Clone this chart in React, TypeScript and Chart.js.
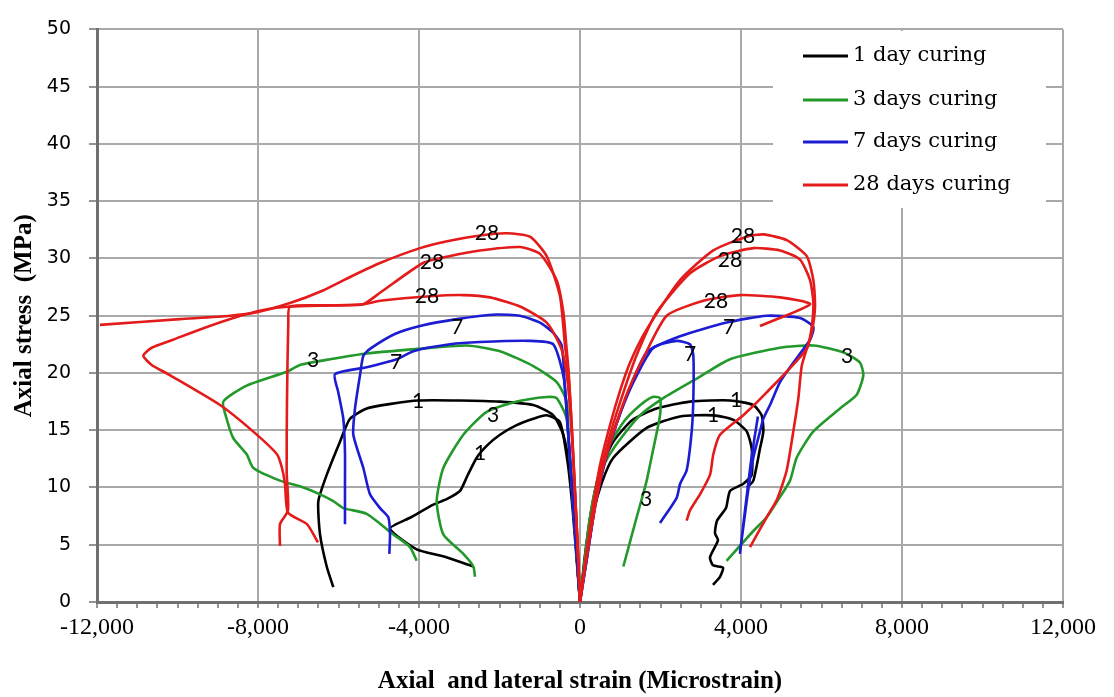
import React, { useEffect, useRef } from 'react';
import { Chart, registerables } from 'chart.js';

Chart.register(...registerables);

type P = [number, number];

// ---------- axis / tick settings ----------
const X_MIN = -12000;
const X_MAX = 12000;
const X_MAJOR = 4000;
const X_MINOR = 500;
const Y_MIN = 0;
const Y_MAX = 50;
const Y_STEP = 5;
const X_TITLE = 'Axial  and lateral strain (Microstrain)';
const Y_TITLE = 'Axial stress  (MPa)';

// ---------- legend ----------
const legendLabels = ['1 day curing', '3 days curing', '7 days curing', '28 days curing'];
const legendColors = ['#000000', '#22992a', '#1c1cd2', '#e41b1b'];

// ---------- 1 day curing ----------
const black1Lateral: P[] = [[0,0],[-80,4],[-160,8],[-248,11.7],[-414,14.6],[-663,16.3],[-1160,17.2],[-1988,17.5],[-3000,17.6],[-4017,17.6],[-4700,17.3],[-5300,16.9],[-5715,16.0],[-5963,14.0],[-6293,11.1],[-6501,8.8],[-6459,5.9],[-6293,3.1],[-6129,1.3]];
const black2Lateral: P[] = [[0,0],[-90,4],[-180,8],[-300,12],[-497,15.7],[-828,16.3],[-1160,16.0],[-1600,15.4],[-1988,14.6],[-2300,13.7],[-2567,12.6],[-2800,11.0],[-2981,9.7],[-3300,9.0],[-3644,8.5],[-4200,7.4],[-4720,6.4],[-4058,4.6],[-3400,4.0],[-2816,3.3],[-2650,3.1]];
const black1Axial: P[] = [[0,0],[120,4],[280,8],[500,11.5],[828,14.0],[1300,15.9],[1905,16.9],[2733,17.5],[3727,17.6],[4306,17.2],[4513,16.3],[4555,14.9],[4472,13.4],[4306,10.6],[4150,10.0]];
const black2Axial: P[] = [[0,0],[120,3.5],[300,7.5],[550,10.5],[828,12.6],[1657,15.2],[2485,16.2],[3313,16.3],[3810,15.9],[4141,14.9],[4265,13.4],[4265,11.1],[4050,10.3],[3727,9.7],[3627,8.2],[3404,7.1],[3354,6.0],[3428,5.4],[3230,3.9],[3304,3.2],[3553,3.0],[3478,2.2],[3304,1.5]];

// ---------- 3 days curing ----------
const green1Lateral: P[] = [[0,0],[-100,5],[-200,10],[-280,14],[-331,17.5],[-580,19.2],[-1160,20.6],[-1988,21.9],[-2816,22.4],[-4017,22.1],[-5300,21.7],[-6211,21.2],[-6957,20.7],[-7288,20.1],[-8281,18.9],[-8862,17.5],[-8779,16.0],[-8613,14.3],[-8281,12.9],[-8115,11.7],[-7454,10.6],[-6957,10.1],[-6459,9.4],[-6129,8.8],[-5880,8.2],[-5300,7.7],[-4638,5.9],[-4224,4.8],[-4058,3.6]];
const green2Lateral: P[] = [[0,0],[-100,5],[-200,10],[-331,16.0],[-580,17.8],[-828,17.9],[-1573,17.5],[-2318,16.6],[-2899,14.6],[-3396,11.7],[-3560,8.8],[-3396,5.9],[-2899,4.2],[-2650,3.1],[-2609,2.2]];
const green1Axial: P[] = [[0,0],[100,3],[220,6.5],[400,10],[600,12],[870,13.6],[1491,16.3],[2070,17.8],[2899,19.5],[3727,21.2],[4969,22.2],[5798,22.4],[6542,21.8],[6957,20.9],[7039,19.8],[6874,18.1],[6460,16.9],[5798,14.9],[5383,12.6],[5218,10.6],[4900,8.8],[4638,7.4],[4306,6.2],[3644,3.6]];
const green2Axial: P[] = [[0,0],[100,3],[230,7],[420,10.5],[700,13.5],[1100,15.8],[1500,17.2],[1800,17.9],[1988,17.8],[1988,16.3],[1823,13.4],[1657,10.6],[1574,9.5],[1408,7.4],[1077,3.1]];

// ---------- 7 days curing ----------
const blue1Lateral: P[] = [[0,0],[-100,5],[-200,10],[-300,15],[-380,19],[-455,22.4],[-663,23.5],[-994,24.4],[-1491,25.0],[-2070,25.1],[-3063,24.7],[-3975,24.1],[-4600,23.4],[-5217,22.1],[-5383,21.5],[-5466,19.8],[-5590,16.9],[-5632,14.6],[-5383,11.7],[-5217,9.4],[-4969,8.2],[-4762,7.4],[-4720,5.9],[-4737,4.2]];
const blue2Lateral: P[] = [[0,0],[-100,5],[-200,10],[-300,15],[-400,19.5],[-663,22.5],[-1242,22.8],[-2485,22.7],[-3230,22.5],[-4141,21.9],[-4554,21.2],[-5300,20.5],[-6087,19.9],[-6004,18.3],[-5880,16.0],[-5839,13.1],[-5839,10.3],[-5839,6.8]];
const blue1Axial: P[] = [[0,0],[180,4],[380,8.5],[600,12],[900,15.5],[1242,18.7],[1657,21.8],[2485,23.2],[3644,24.4],[4638,25.0],[5466,24.8],[5798,24.0],[5715,22.9],[5300,20.9],[4969,19.2],[4720,17.2],[4555,16.0],[4472,14.9],[4306,12.6],[4141,8.8],[3975,4.3],[4120,8.6],[4260,12.6],[4420,16.2]];
const blue2Axial: P[] = [[0,0],[180,4],[380,8.5],[600,12],[900,15.5],[1300,19],[1822,22.2],[2402,22.8],[2733,22.5],[2816,21.5],[2816,17.8],[2775,14.9],[2650,11.5],[2485,10.3],[2402,9.1],[1988,6.9]];

// ---------- 28 days curing ----------
const red1Lateral: P[] = [[0,0],[-60,5],[-130,10],[-200,15],[-290,20],[-373,22.4],[-497,26.7],[-828,30.2],[-1242,31.9],[-1821,32.2],[-2484,32.0],[-3300,31.5],[-3975,30.9],[-4969,29.6],[-5700,28.4],[-6385,27.2],[-7205,26.1],[-8032,25.3],[-8696,25.0],[-9938,24.7],[-11926,24.2]];
const red2Lateral: P[] = [[0,0],[-60,5],[-130,10],[-200,15],[-280,20],[-340,22.4],[-414,25.3],[-580,28.1],[-994,30.4],[-1491,31.0],[-2485,30.7],[-3250,30.2],[-3901,29.6],[-4969,27.0],[-5391,26.0],[-6211,25.9],[-7205,25.8],[-7868,25.5],[-8613,24.8],[-9441,23.8],[-10112,22.9],[-10641,22.2],[-10849,21.5],[-10641,20.7],[-10236,19.9],[-8944,17.2],[-8124,14.9],[-7528,12.9],[-7404,11.7],[-7329,10.3],[-7255,7.8],[-6783,6.8],[-6510,5.2]];
const red3Lateral: P[] = [[0,0],[-60,5],[-130,10],[-210,15],[-300,19],[-380,21],[-497,22.4],[-828,24.4],[-1490,25.8],[-2236,26.6],[-2898,26.8],[-3726,26.7],[-4968,26.3],[-5391,26.0],[-6211,25.9],[-7205,25.8],[-7247,24.4],[-7280,17.5],[-7288,11.4],[-7255,8.0],[-7454,6.8],[-7454,4.9]];
const red1Axial: P[] = [[0,0],[150,4],[330,8.5],[500,12],[750,15.5],[1000,18.5],[1242,20.9],[1657,23.8],[2485,28.1],[3312,30.7],[4141,31.9],[4555,32.1],[5136,31.6],[5633,30.2],[5798,28.1],[5839,25.8],[5757,23.5],[5632,22.1],[5508,20.6],[5425,17.8],[5300,14.9],[5136,11.5],[4900,9.0],[4638,7.4],[4224,4.8]];
const red2Axial: P[] = [[0,0],[150,3.8],[330,8],[520,11.5],[780,15],[1050,18],[1400,21.5],[1905,25.3],[2733,28.7],[3478,30.2],[4306,30.9],[4969,30.7],[5466,29.9],[5715,28.1],[5798,26.1],[5757,24.0],[5632,22.1],[4638,18.3],[4057,16.3],[3478,14.6],[3312,12.9],[3230,11.1],[2981,9.4],[2733,8.0],[2650,7.1]];
const red3Axial: P[] = [[0,0],[170,4],[360,8],[560,11.5],[850,15],[1200,18.5],[1600,21.5],[2154,25.0],[3064,26.3],[3975,26.8],[4969,26.6],[5715,26.0],[4472,24.1]];

// ---------- curve labels (text, strain, stress) ----------
const labelTexts = ['28','28','28','7','7','3','1','3','1','28','28','28','7','7','3','1','1','3'];
const labelStrain = [-2310,-3677,-3800,-3056,-4571,-6634,-4025,-2161,-2485,4050,3727,3379,3702,2733,6634,3876,3304,1640];
const labelStress = [32.2,29.7,26.7,24.0,20.9,21.1,17.5,16.3,13.0,31.9,29.8,26.3,24.0,21.6,21.5,17.6,16.3,9.0];

const GRID = '#a9a9a9';
const AXIS = '#707070';

const series: { data: P[]; color: string }[] = [
  { data: red1Lateral, color: legendColors[3] },
  { data: red2Lateral, color: legendColors[3] },
  { data: red3Lateral, color: legendColors[3] },
  { data: red1Axial, color: legendColors[3] },
  { data: red2Axial, color: legendColors[3] },
  { data: red3Axial, color: legendColors[3] },
  { data: blue1Lateral, color: legendColors[2] },
  { data: blue2Lateral, color: legendColors[2] },
  { data: blue1Axial, color: legendColors[2] },
  { data: blue2Axial, color: legendColors[2] },
  { data: green1Lateral, color: legendColors[1] },
  { data: green2Lateral, color: legendColors[1] },
  { data: green1Axial, color: legendColors[1] },
  { data: green2Axial, color: legendColors[1] },
  { data: black1Lateral, color: legendColors[0] },
  { data: black2Lateral, color: legendColors[0] },
  { data: black1Axial, color: legendColors[0] },
  { data: black2Axial, color: legendColors[0] },
];

const curveLabelPlugin = {
  id: 'curveLabels',
  afterDatasetsDraw(chart: any) {
    const { ctx, scales } = chart;
    ctx.save();
    ctx.font = '21px Lato';
    ctx.fillStyle = '#000';
    ctx.textAlign = 'center';
    ctx.textBaseline = 'middle';
    labelTexts.forEach((t, i) => {
      ctx.fillText(t, scales.x.getPixelForValue(labelStrain[i]), scales.y.getPixelForValue(labelStress[i]));
    });
    ctx.restore();
  },
};

const legendBoxPlugin = {
  id: 'legendBox',
  afterDatasetsDraw(chart: any) {
    const { ctx } = chart;
    ctx.save();
    ctx.fillStyle = '#ffffff';
    ctx.fillRect(773, 31, 273, 177);
    const rows = [56, 100, 142, 185];
    ctx.font = '21px "DejaVu Serif"';
    ctx.textBaseline = 'middle';
    ctx.textAlign = 'left';
    legendLabels.forEach((lab, i) => {
      ctx.strokeStyle = legendColors[i];
      ctx.lineWidth = 3;
      ctx.beginPath();
      ctx.moveTo(803, rows[i]);
      ctx.lineTo(848, rows[i]);
      ctx.stroke();
      ctx.fillStyle = '#000';
      ctx.fillText(lab, 853, rows[i]);
    });
    ctx.restore();
  },
};

export default function App() {
  const ref = useRef<HTMLCanvasElement>(null);
  useEffect(() => {
    document.body.style.margin = '0';
    const chart = new Chart(ref.current as HTMLCanvasElement, {
      type: 'scatter',
      data: {
        datasets: series.map((s) => ({
          data: s.data.map(([x, y]) => ({ x, y })),
          showLine: true,
          borderColor: s.color,
          backgroundColor: s.color,
          borderWidth: 2.6,
          pointRadius: 0,
          tension: 0.2,
          fill: false,
        })),
      },
      options: {
        animation: false,
        responsive: false,
        events: [],
        layout: { padding: { left: 0, right: 51, top: 24, bottom: 0 } },
        plugins: { legend: { display: false }, tooltip: { enabled: false } },
        scales: {
          x: {
            type: 'linear',
            min: X_MIN,
            max: X_MAX,
            afterFit: (s: any) => { s.height = 95; },
            ticks: {
              stepSize: X_MINOR,
              autoSkip: false,
              maxRotation: 0,
              padding: 5,
              color: '#000',
              font: { family: 'Liberation Serif', size: 24 },
              callback: (v: any) => (Number(v) % X_MAJOR === 0 ? Number(v).toLocaleString('en-US') : ''),
            },
            grid: {
              color: (c: any) => (c.tick && c.tick.value % X_MAJOR === 0 ? GRID : 'rgba(0,0,0,0)'),
              lineWidth: 2,
              drawTicks: true,
              tickLength: 6,
              tickColor: AXIS,
              tickWidth: 1.5,
            },
            border: { color: AXIS, width: 3 },
            title: {
              display: true,
              text: X_TITLE,
              color: '#000',
              font: { family: 'Liberation Serif', size: 25, weight: 'bold' },
              padding: { top: 0, bottom: 0 },
            },
          },
          y: {
            type: 'linear',
            min: Y_MIN,
            max: Y_MAX,
            afterFit: (s: any) => { s.width = 97; },
            ticks: {
              stepSize: Y_STEP,
              padding: 18,
              color: '#000',
              font: { family: 'DejaVu Sans', size: 19 },
            },
            grid: {
              color: GRID,
              lineWidth: 2,
              drawTicks: true,
              tickLength: 8,
              tickColor: AXIS,
              tickWidth: 1.5,
            },
            border: { color: AXIS, width: 3 },
            title: {
              display: true,
              text: Y_TITLE,
              color: '#000',
              font: { family: 'Liberation Serif', size: 25, weight: 'bold' },
              padding: { top: 10, bottom: 0 },
            },
          },
        },
      } as any,
      plugins: [legendBoxPlugin, curveLabelPlugin],
    });
    return () => chart.destroy();
  }, []);
  return (
    <div style={{ width: 1114, height: 697, background: '#fff' }}>
      <canvas ref={ref} width={1114} height={697} style={{ display: 'block' }} />
    </div>
  );
}
